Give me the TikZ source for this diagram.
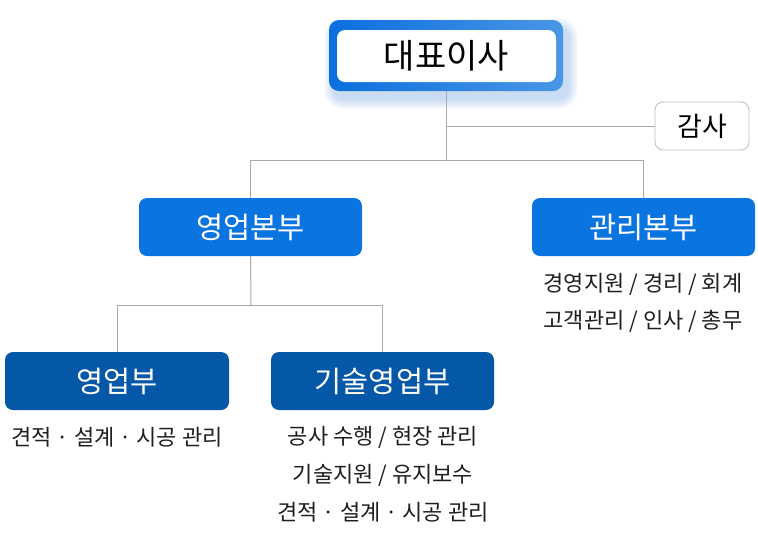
\documentclass[tikz,border=0pt]{standalone}
\usepackage{fontspec}
\setmainfont{Noto Sans CJK KR}
\definecolor{lvone}{HTML}{0A74E0}
\definecolor{lvtwo}{HTML}{0557A8}
\definecolor{linegray}{HTML}{AAAAAA}
\definecolor{ceoleft}{HTML}{0B6FDE}
\definecolor{ceoright}{HTML}{4A96E6}
\definecolor{glow}{HTML}{3C7FD8}
\definecolor{auditgray}{HTML}{BBBBBB}
\tikzset{
  conn/.style={draw=linegray, line width=1pt},
  ceoframe/.style={rectangle, rounded corners=10pt, minimum width=234pt, minimum height=71pt, left color=ceoleft, right color=ceoright, inner sep=0pt},
  ceoinner/.style={rectangle, rounded corners=8pt, fill=white, minimum width=219pt, minimum height=52pt, inner sep=0pt, font=\fontsize{34}{38}\selectfont},
  auditbox/.style={rectangle, rounded corners=8pt, draw=auditgray, fill=white, line width=0.8pt, minimum width=94pt, minimum height=48pt, inner sep=0pt, font=\fontsize{27}{31}\selectfont},
  divbox/.style={rectangle, rounded corners=8pt, fill=lvone, text=white, minimum width=223pt, minimum height=58pt, inner sep=0pt, font=\fontsize{29.5}{33}\selectfont},
  deptbox/.style={rectangle, rounded corners=8pt, fill=lvtwo, text=white, minimum width=224pt, minimum height=58pt, inner sep=0pt, font=\fontsize{29.5}{33}\selectfont},
  desc/.style={inner sep=0pt, font=\fontsize{22}{26}\selectfont, text=black!88}
}
\begin{document}
\begin{tikzpicture}[x=1pt,y=-1pt]
\useasboundingbox (0,0) rectangle (758,539);
% soft glow shadow under the CEO box
\foreach \i in {1,...,10}{
  \pgfmathsetmacro{\rr}{10+\i}
  \fill[glow, opacity=0.03, rounded corners=\rr pt] (334-\i,28-\i) rectangle (568+\i,99+\i);
}
\node[ceoframe] (ceo) at (446,55.5) {};
\node[ceoinner] (ceoin) at (446.5,56) {대표이사};
\node[auditbox] (audit) at (702,126) {감사};
\node[divbox] (div1) at (250.5,227) {영업본부};
\node[divbox] (div2) at (643.5,227) {관리본부};
\node[deptbox] (dept1) at (117,381) {영업부};
\node[deptbox, minimum width=223pt] (dept2) at (382.5,381) {기술영업부};
\coordinate (j1) at (446,126);
\coordinate (j2) at (446,160);
\coordinate (j3) at (251,305);
\draw[conn] (ceo.south) -- (j2);
\draw[conn] (j1) -- (audit.west);
\draw[conn] (div1.north) -- (div1.north |- j2) -- (div2.north |- j2) -- (div2.north);
\draw[conn] (div1.south) -- (j3);
\draw[conn] (dept1.north) -- (dept1.north |- j3) -- (dept2.north |- j3) -- (dept2.north);
\node[desc] (d2a) at (643,284) {경영지원 / 경리 / 회계};
\node[desc] (d2b) at (643,321) {고객관리 / 인사 / 총무};
\node[desc] (e1a) at (117,437) {견적 · 설계 · 시공 관리};
\node[desc] (e2a) at (383,437) {공사 수행 / 현장 관리};
\node[desc] (e2b) at (383,475) {기술지원 / 유지보수};
\node[desc] (e2c) at (383,512) {견적 · 설계 · 시공 관리};
\end{tikzpicture}
\end{document}
